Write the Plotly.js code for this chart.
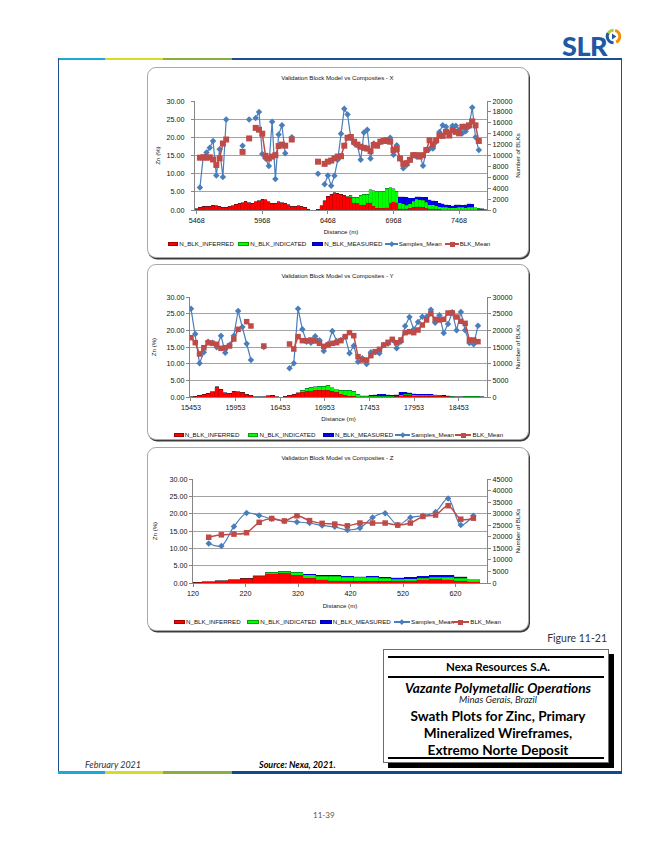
<!DOCTYPE html>
<html>
<head>
<meta charset="utf-8">
<script src="https://cdn.plot.ly/plotly-3.0.1.min.js"></script>
<style>
html,body{margin:0;padding:0;}
body{width:649px;height:843px;background:#fff;position:relative;overflow:hidden;font-family:'Liberation Sans',Arial,sans-serif;}
.a{position:absolute;}
.panel{position:absolute;box-sizing:border-box;border:1px solid #a8a8a8;border-radius:9px;background:#fff;box-shadow:1px 1.5px 0.5px #3c3c3c;}
.chart{position:absolute;}
.lg{position:absolute;font-size:6.2px;color:#111;white-space:nowrap;line-height:8px;height:8px;}
.t{position:absolute;white-space:nowrap;font-family:Lato,'Open Sans',sans-serif;color:#000;}
.c{text-align:center;}
</style>
</head>
<body>
<!-- page frame -->
<div class="a" style="left:58px;top:58px;width:47px;height:1.5px;background:#1ba9d8"></div>
<div class="a" style="left:105px;top:58px;width:58px;height:1.5px;background:#d4db28"></div>
<div class="a" style="left:163px;top:58px;width:69px;height:1.5px;background:#8aaf3a"></div>
<div class="a" style="left:232px;top:58px;width:390px;height:1.5px;background:#1c4f8f"></div>
<div class="a" style="left:58px;top:58px;width:1px;height:715px;background:#1c4f8f"></div>
<div class="a" style="left:621px;top:58px;width:1px;height:715px;background:#1c4f8f"></div>
<div class="a" style="left:58px;top:771px;width:47px;height:3px;background:#1ba9d8"></div>
<div class="a" style="left:105px;top:771px;width:58px;height:3px;background:#d4db28"></div>
<div class="a" style="left:163px;top:771px;width:69px;height:3px;background:#8aaf3a"></div>
<div class="a" style="left:232px;top:771px;width:390px;height:3px;background:#0d4a8f"></div>

<!-- logo -->
<div class="t" style="left:562px;top:32px;font-size:27px;line-height:27px;font-weight:900;color:#2158a5;letter-spacing:-0.5px">SLR</div>
<svg class="a" style="left:604px;top:27px" width="19" height="19" viewBox="0 0 19 19">
  <circle cx="9.5" cy="9.5" r="6.3" fill="none" stroke="#b5cc3a" stroke-width="3" stroke-dasharray="12 40" transform="rotate(-200 9.5 9.5)"/>
  <circle cx="9.5" cy="9.5" r="6.3" fill="none" stroke="#2158a5" stroke-width="3" stroke-dasharray="13 40" transform="rotate(90 9.5 9.5)"/>
  <circle cx="9.5" cy="9.5" r="6.3" fill="none" stroke="#f29100" stroke-width="3" stroke-dasharray="15 40" transform="rotate(-75 9.5 9.5)"/>
  <path d="M8 6.6 L12.4 9.5 L8 12.4 Z" fill="#2158a5"/>
</svg>

<!-- chart panels -->
<div class="panel" style="left:147px;top:67px;width:382px;height:191px"></div>
<div class="panel" style="left:147px;top:264px;width:382px;height:176px"></div>
<div class="panel" style="left:147px;top:447px;width:382px;height:184px"></div>

<div id="c1" class="chart" style="left:147px;top:68px;width:381px;height:190px"></div>
<div id="c2" class="chart" style="left:147px;top:264px;width:381px;height:177px"></div>
<div id="c3" class="chart" style="left:147px;top:447px;width:381px;height:186px"></div>
<div id="legends"></div>

<!-- figure caption block -->
<div class="t" style="right:42px;top:632px;font-size:10.5px;line-height:12px;color:#333">Figure 11-21</div>
<div class="a" style="left:383px;top:649px;width:224px;height:112px;border:1px solid #6d6d6d;box-shadow:5px 5px 0 #000;background:#fff"></div>
<div class="a" style="left:388px;top:656px;width:216px;height:1.6px;background:#000"></div>
<div class="a" style="left:388px;top:676px;width:216px;height:1.6px;background:#000"></div>
<div class="a" style="left:388px;top:757px;width:216px;height:1.6px;background:#000"></div>
<div class="t c" style="left:385px;width:226px;top:660px;font-size:11.5px;line-height:14px;font-weight:700">Nexa Resources S.A.</div>
<div class="t c" style="left:385px;width:226px;top:679.5px;font-size:13.6px;line-height:16px;font-weight:700;font-style:italic">Vazante Polymetallic Operations</div>
<div class="t c" style="left:385px;width:226px;top:694px;font-size:9.6px;line-height:11px;font-style:italic;color:#222">Minas Gerais, Brazil</div>
<div class="t c" style="left:385px;width:226px;top:708px;font-size:13.6px;line-height:16px;font-weight:700">Swath Plots for Zinc, Primary</div>
<div class="t c" style="left:385px;width:226px;top:725px;font-size:13.6px;line-height:16px;font-weight:700">Mineralized Wireframes,</div>
<div class="t c" style="left:385px;width:226px;top:742px;font-size:13.6px;line-height:16px;font-weight:700">Extremo Norte Deposit</div>

<!-- footer -->
<div class="t" style="left:85px;top:759px;font-size:9px;line-height:12px;font-style:italic;color:#333">February 2021</div>
<div class="t" style="left:259px;top:759px;font-size:9px;line-height:12px;font-style:italic;font-weight:700">Source: Nexa, 2021.</div>
<div class="t" style="left:313px;top:810px;font-size:8px;line-height:10px;color:#555">11-39</div>

<script>
// ---------------- DATA ----------------
// Series names
const seriesNames = ['N_BLK_INFERRED','N_BLK_INDICATED','N_BLK_MEASURED','Samples_Mean','BLK_Mean'];

// Chart X : distance categories (m)
const dist_x = [
5468,5493,5518,5543,5568,5593,5618,5643,5668,5693,
5718,5743,5768,5793,5818,5843,5868,5893,5918,5943,
5968,5993,6018,6043,6068,6093,6118,6143,6168,6193,
6218,6243,6268,6293,6318,6343,6368,6393,6418,6443,
6468,6493,6518,6543,6568,6593,6618,6643,6668,6693,
6718,6743,6768,6793,6818,6843,6868,6893,6918,6943,
6968,6993,7018,7043,7068,7093,7118,7143,7168,7193,
7218,7243,7268,7293,7318,7343,7368,7393,7418,7443,
7468,7493,7518,7543,7568,7593,7618,7643,7668];
const samples_x = [
null,6.2,14.5,15.8,17.1,19.0,9.5,16.7,9.1,24.9,
null,null,null,null,17.7,null,24.9,null,25.3,27.0,
15.4,14.2,12.1,24.3,8.5,20.8,23.3,15.6,null,20.0,
null,null,null,null,null,null,null,10.0,null,7.1,
9.5,6.7,9.4,13.8,21.0,27.9,26.3,19.8,18.3,17.8,
13.8,21.3,22.1,14.2,18.3,17.8,18.8,19.2,18.9,19.9,
15.2,17.8,14.2,11.5,12.4,13.8,15.1,14.7,15.1,12.2,
16.5,16.8,16.9,18.8,21.5,23.3,22.9,21.1,23.2,23.2,
22.0,21.1,21.7,22.9,28.2,20.0,16.5,null,null];
const blk_x = [
null,14.4,14.5,14.4,14.5,13.9,12.4,14.2,18.3,19.4,
null,null,null,null,16.0,null,19.7,null,22.6,22.1,
21.0,14.9,14.2,14.7,15.1,17.6,18.0,17.7,null,19.4,
null,null,null,null,null,null,null,13.3,null,12.7,
13.3,13.6,14.2,14.7,14.8,17.7,19.9,20.1,18.8,18.0,
17.4,17.1,16.9,16.2,17.9,17.7,18.8,19.0,19.2,18.8,
16.5,16.8,14.2,12.7,12.9,13.8,15.1,15.1,14.7,15.1,
16.5,19.2,18.0,19.2,20.5,20.4,21.5,20.5,22.0,21.5,
21.1,22.9,22.9,23.3,24.4,23.3,19.0,null,null];
const inferred_x = [
270,530,670,730,730,870,800,670,470,530,
670,800,1070,1200,1330,1600,1330,1270,1470,1730,
2000,1870,1470,1200,1270,1470,1330,1200,930,730,
670,800,670,470,130,0,0,130,800,1670,
2530,2870,3200,3070,2870,2670,2400,2400,1330,1200,
1000,1000,1330,1330,670,330,330,330,400,1330,
1470,1330,270,200,200,330,530,600,600,470,
330,200,200,130,130,70,70,70,70,70,
70,70,70,70,70,70,130,130,70];
const indicated_x = [
0,0,0,0,0,0,0,0,0,0,
0,0,0,0,0,0,0,0,0,0,
0,0,0,0,0,0,0,0,0,0,
0,0,0,0,0,0,0,0,0,0,
0,0,0,0,0,0,0,270,1000,1130,
1670,1870,1530,2400,2870,3000,3000,3130,3600,2730,
2400,2130,1070,930,670,800,1070,1330,1270,1330,
1070,800,800,670,470,400,400,330,330,330,
400,400,330,400,400,330,200,70,0];
const measured_x = [
0,0,0,0,0,0,0,0,0,0,
0,0,0,0,0,0,0,0,0,0,
0,0,0,0,0,0,0,0,0,0,
0,0,0,0,0,0,0,0,0,0,
0,0,0,0,0,0,0,0,0,0,
0,0,0,0,0,0,0,0,0,0,
0,0,1070,1270,1470,1000,530,470,530,530,
930,870,730,800,600,670,470,470,400,530,
530,400,530,670,600,0,0,0,0];

// Chart Y
const dist_y = [
15453,15501,15549,15597,15645,15693,15741,15789,15837,15885,
15933,15981,16029,16077,16125,16173,16221,16269,16317,16365,
16413,16461,16509,16557,16605,16653,16701,16749,16797,16845,
16893,16941,16989,17037,17085,17133,17181,17229,17277,17325,
17373,17421,17469,17517,17565,17613,17661,17709,17757,17805,
17853,17901,17949,17997,18045,18093,18141,18189,18237,18285,
18333,18381,18429,18477,18525,18573,18621,18669,18717,18765];
const samples_y = [
26.5,18.9,10.1,13.4,16.6,16.3,14.9,18.4,13.3,15.6,
18.4,25.8,21.0,16.0,11.1,null,null,15.0,null,null,
null,null,null,8.6,10.1,26.5,20.3,16.6,16.3,18.2,
17.0,13.8,15.9,19.8,16.8,17.1,18.1,13.1,15.4,10.6,
11.6,9.9,13.4,13.4,13.1,15.6,16.0,17.1,14.6,16.6,
21.3,24.0,20.3,22.5,24.1,24.1,26.2,22.3,24.5,19.2,
21.9,25.4,20.0,25.5,20.0,16.2,15.8,21.4,null,null];
const blk_y = [
17.8,16.3,12.9,14.8,16.3,16.1,15.8,14.6,14.8,15.3,
17.4,20.3,null,22.6,21.3,null,null,15.3,null,null,
null,null,null,15.9,14.4,18.1,16.9,16.9,17.1,16.8,
16.1,15.2,15.6,16.1,16.3,16.9,18.1,19.3,18.4,12.1,
11.1,11.1,12.4,13.6,14.3,15.6,16.4,17.3,16.3,17.1,
19.3,19.6,19.3,20.1,21.6,23.1,25.0,23.3,23.1,23.3,
25.2,25.2,24.0,22.7,22.1,17.1,17.1,16.6,null,null];
const inferred_y = [
100,200,500,800,1100,1600,3100,2300,1300,1100,
1800,1600,1500,900,500,100,100,50,400,500,
100,0,200,500,800,1200,1500,1800,1900,2000,
2000,2000,2000,1800,1400,900,600,300,200,100,
100,100,100,100,100,100,100,100,200,400,
600,600,400,300,200,200,200,200,200,200,
200,100,100,100,100,100,100,100,50,0];
const indicated_y = [
0,0,0,0,0,0,0,0,0,0,
0,0,0,0,0,0,0,0,0,0,
0,0,0,0,0,100,500,800,1100,1100,
1200,1300,1500,1000,800,1100,1500,1800,1600,700,
200,100,100,100,100,100,100,100,100,300,
300,300,300,300,400,400,400,400,300,200,
100,100,50,50,100,200,200,100,50,0];
const measured_y = [
0,0,0,0,0,0,0,0,0,0,
0,0,0,0,0,0,0,0,0,0,
0,0,0,0,0,0,0,0,0,0,
0,0,0,0,0,0,0,0,0,0,
100,200,300,500,600,600,500,400,400,700,
500,400,300,200,200,200,200,100,100,100,
100,0,0,0,0,0,0,0,0,0];

// Chart Z
const dist_z = [126,150,174,198,222,246,270,294,318,342,366,390,414,438,462,486,510,534,558,582,606,630,654];
const samples_z = [null,11.4,10.7,16.3,20.2,19.5,18.5,17.9,17.6,17.3,16.6,16.2,15.3,15.9,18.9,20.1,16.7,18.9,19.4,20.5,24.4,16.7,19.4];
const blk_z = [null,13.2,13.9,14.1,14.5,17.5,18.6,17.9,19.4,18.0,17.2,17.0,16.5,17.3,17.3,17.3,16.7,17.3,19.2,19.6,22.3,18.4,18.7];
const inferred_z = [230,530,900,1350,2100,3000,4050,4500,3300,1950,1350,1050,900,750,750,750,900,1050,1500,1800,1500,1050,600];
const indicated_z = [0,0,0,0,0,150,600,600,1350,1650,1650,1950,1650,1650,1650,1350,750,750,600,750,900,900,750];
const measured_z = [0,0,0,0,0,0,0,0,0,150,300,300,300,300,450,450,600,750,900,900,900,750,150];

// ---------------- DRAWING ----------------
const colInf = '#FF0000', colInd = '#00FF00', colMea = '#0000FF', colSam = '#4A7EBB', colBlk = '#BE4B48';
const axisCol = '#868686';

function drawChart(id, cfg, x, inf, ind, mea, samp, blk){
  const data = [
    {type:'scatter', x:x, y:samp, name:seriesNames[3], mode:'lines+markers',
     line:{color:colSam, width:1.2, shape:cfg.shape, smoothing:0.9}, marker:{symbol:'diamond', size:cfg.ds, color:colSam}},
    {type:'scatter', x:x, y:blk, name:seriesNames[4], mode:'lines+markers',
     line:{color:colBlk, width:1.5, shape:cfg.shape, smoothing:0.9}, marker:{symbol:'square', size:cfg.ss, color:colBlk}},
    {type:'bar', x:x, y:inf, yaxis:'y2', name:seriesNames[0], marker:{color:colInf, line:{color:'rgba(120,0,0,0.55)', width:0.3}}},
    {type:'bar', x:x, y:ind, yaxis:'y2', name:seriesNames[1], marker:{color:colInd, line:{color:'rgba(0,110,0,0.55)', width:0.3}}},
    {type:'bar', x:x, y:mea, yaxis:'y2', name:seriesNames[2], marker:{color:colMea, line:{color:'rgba(0,0,90,0.6)', width:0.3}}}
  ];
  const layout = {
    width:381, height:cfg.h, margin:{l:cfg.l, r:41, t:cfg.t, b:cfg.b, pad:0},
    paper_bgcolor:'rgba(0,0,0,0)', plot_bgcolor:'rgba(0,0,0,0)',
    showlegend:false, barmode:'stack', bargap:0,
    font:{family:'"Liberation Sans", Arial, sans-serif', size:7.2, color:'#111'},
    title:{text:cfg.title, font:{size:6.1, color:'#111'}, xref:'container', x:0.5, xanchor:'center', yref:'container', y:cfg.ty, yanchor:'middle'},
    xaxis:{range:cfg.xr, tickmode:'linear', tick0:cfg.t0, dtick:cfg.dt, tickformat:'d', showline:true, linecolor:axisCol, linewidth:1,
           ticks:'outside', ticklen:3, tickcolor:axisCol, showgrid:false, zeroline:false, automargin:false, tickfont:{size:7.2},
           title:{text:'Distance (m)', font:{size:6.1}, standoff:cfg.xs}},
    yaxis:{range:[0,30], tickmode:'linear', tick0:0, dtick:5, tickformat:'.2f', showline:true, linecolor:axisCol, linewidth:1,
           ticks:'outside', ticklen:3, tickcolor:axisCol, showgrid:true, gridcolor:'#8c8c8c', gridwidth:0.8, zeroline:false, automargin:false,
           ticklabelstandoff:cfg.yls, title:{text:'Zn (%)', font:{size:6.1}, standoff:cfg.ys}},
    yaxis2:{overlaying:'y', side:'right', range:[0,cfg.y2max], tickmode:'linear', tick0:0, dtick:cfg.y2dt, tickformat:'d',
            showline:true, linecolor:axisCol, linewidth:1, ticks:'outside', ticklen:3, tickcolor:axisCol, showgrid:false, zeroline:false, automargin:false,
            title:{text:'Number of BLKs', font:{size:6.1}, standoff:cfg.y2s}}
  };
  Plotly.newPlot(id, data, layout, {staticPlot:true, displayModeBar:false});
}

drawChart('c1', {h:190, l:48, t:33, b:48, ty:0.947, title:'Validation Block Model vs Composites - X',
  xr:[5455.5,7680.5], t0:5468, dt:500, y2max:20000, y2dt:2000, shape:'linear', ds:5, ss:6, xs:6, ys:5, yls:5, y2s:4},
  dist_x, inferred_x, indicated_x, measured_x, samples_x, blk_x);
drawChart('c2', {h:177, l:43, t:33, b:44, ty:0.932, title:'Validation Block Model vs Composites - Y',
  xr:[15442,18770], t0:15453, dt:500, y2max:30000, y2dt:5000, shape:'linear', ds:5, ss:5.5, xs:6, ys:9, yls:0, y2s:4},
  dist_y, inferred_y, indicated_y, measured_y, samples_y, blk_y);
drawChart('c3', {h:186, l:46, t:32, b:50, ty:0.942, title:'Validation Block Model vs Composites - Z',
  xr:[120,680], t0:120, dt:100, y2max:45000, y2dt:5000, shape:'spline', ds:5, ss:5.5, xs:7, ys:11, yls:0, y2s:4},
  dist_z, inferred_z, indicated_z, measured_z, samples_z, blk_z);

// ---- legends (HTML, Excel-like layout) ----
const legColors = [colInf, colInd, colMea, colSam, colBlk];
function legend(y, symX, txtX){
  let h = '';
  seriesNames.forEach((n,i)=>{
    const w = txtX[i]-symX[i]-1;
    if(i<3){
      h += `<div class="a" style="left:${symX[i]}px;top:${y-2}px;width:${w}px;height:4px;background:${legColors[i]};box-sizing:border-box;border:0.5px solid rgba(0,0,0,0.35)"></div>`;
    } else {
      h += `<div class="a" style="left:${symX[i]}px;top:${y-0.75}px;width:${w}px;height:1.5px;background:${legColors[i]}"></div>`;
      const cx = symX[i] + w/2;
      if(i===3){
        h += `<div class="a" style="left:${cx-1.8}px;top:${y-1.8}px;width:3.6px;height:3.6px;background:${legColors[i]};transform:rotate(45deg)"></div>`;
      } else {
        h += `<div class="a" style="left:${cx-2.5}px;top:${y-2.5}px;width:5px;height:5px;background:${legColors[i]}"></div>`;
      }
    }
    h += `<div class="lg" style="left:${txtX[i]}px;top:${y-4}px">${n}</div>`;
  });
  return h;
}
document.getElementById('legends').innerHTML =
  legend(244, [167.7,237.7,312,385.3,445.3], [179.3,250.3,324.3,398.7,459.7]) +
  legend(435, [173.7,247.7,323,395.3,455.3], [184.7,259.5,335,411,472.5]) +
  legend(622, [173.7,247,319.7,393.7,452], [186,260.3,332.7,411,470.3]);
</script>
</body>
</html>
